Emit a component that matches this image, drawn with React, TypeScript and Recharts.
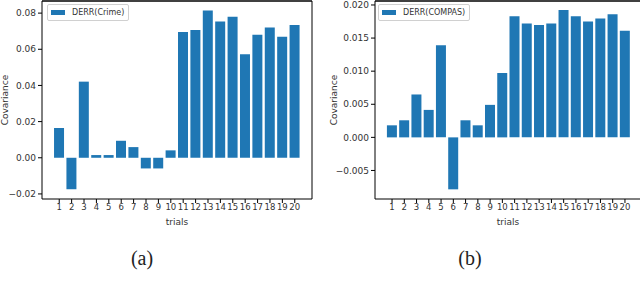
import React from 'react';
import { BarChart, Bar, XAxis, YAxis, Legend, ReferenceLine } from 'recharts';

const trials = [1, 2, 3, 4, 5, 6, 7, 8, 9, 10, 11, 12, 13, 14, 15, 16, 17, 18, 19, 20];
const crimeValues = [0.0165, -0.0174, 0.0421, 0.0015, 0.0015, 0.0094, 0.0059, -0.0059, -0.0059, 0.0041,
  0.0695, 0.0706, 0.0815, 0.0754, 0.078, 0.0573, 0.068, 0.0721, 0.0669, 0.0734];
const compasValues = [0.00182, 0.00258, 0.00648, 0.00415, 0.0139, -0.00785, 0.00258, 0.00182, 0.00491, 0.00972,
  0.01828, 0.01722, 0.01696, 0.01722, 0.01924, 0.01828, 0.01752, 0.01797, 0.01858, 0.0161];
const crimeTicks = [-0.02, 0, 0.02, 0.04, 0.06, 0.08];
const compasTicks = [-0.005, 0, 0.005, 0.01, 0.015, 0.02];
const crimeLabel = 'DERR(Crime)';
const compasLabel = 'DERR(COMPAS)';
const xLabel = 'trials';
const yLabel = 'Covariance';
const captions = ['(a)', '(b)'];

const BLUE = '#1f77b4';
const FONT = "'DejaVu Sans', sans-serif";
const TEXT = '#333';
const X_DOMAIN: [number, number] = [-0.39, 21.39];

const crimeData = trials.map((t, i) => ({ trial: t, value: crimeValues[i] }));
const compasData = trials.map((t, i) => ({ trial: t, value: compasValues[i] }));

const fmt = (d: number) => (v: number) => (v < -1e-12 ? '\u2212' : '') + Math.abs(v).toFixed(d);

function LegendBox(props: any) {
  const item = props.payload && props.payload[0];
  return (
    <div style={{
      border: '1px solid #d0d0d0', borderRadius: 2, background: '#fff',
      padding: '2px 4px 2px 3px', display: 'flex', alignItems: 'center',
      fontFamily: FONT, fontSize: 8, color: TEXT, lineHeight: '11px', whiteSpace: 'nowrap',
    }}>
      <span style={{ display: 'inline-block', width: 14, height: 5, background: BLUE, marginRight: 7 }} />
      <span>{item ? item.value : ''}</span>
    </div>
  );
}

function Panel(p: {
  data: any[]; name: string; ticks: number[]; domain: [number, number]; decimals: number;
  width: number; yWidth: number; right: number; legendLeft: number;
}) {
  return (
    <BarChart width={p.width} height={220} data={p.data} margin={{ top: 1, right: p.right, bottom: 0, left: 0 }}>
      <XAxis dataKey="trial" type="number" domain={X_DOMAIN} ticks={trials} interval={0} allowDataOverflow
        height={21} tickSize={4} tickMargin={1}
        axisLine={{ stroke: '#000' }} tickLine={{ stroke: '#000' }}
        tick={{ fontSize: 8.5, fill: TEXT, fontFamily: FONT }} />
      <YAxis type="number" domain={p.domain} ticks={p.ticks} interval={0} allowDataOverflow
        width={p.yWidth} tickSize={4} tickMargin={2} tickFormatter={fmt(p.decimals)}
        axisLine={{ stroke: '#000' }} tickLine={{ stroke: '#000' }}
        tick={{ fontSize: 9, fill: TEXT, fontFamily: FONT }} />
      <ReferenceLine y={p.domain[1]} stroke="#000" strokeWidth={1.5} ifOverflow="extendDomain" />
      <ReferenceLine x={X_DOMAIN[1]} stroke="#000" ifOverflow="extendDomain" />
      <Bar dataKey="value" name={p.name} fill={BLUE} barSize={10} isAnimationActive={false} />
      <Legend layout="vertical" align="center" verticalAlign="middle" content={<LegendBox />}
        wrapperStyle={{ left: p.legendLeft, top: 4, width: 'auto', height: 'auto' }} />
    </BarChart>
  );
}

export default function App() {
  return (
    <div style={{ position: 'absolute', left: 0, top: 0, width: 640, height: 301, overflow: 'hidden', background: '#fff' }}>
      <div style={{ position: 'absolute', left: 0, top: 0 }}>
        <Panel data={crimeData} name={crimeLabel} ticks={crimeTicks} domain={[-0.0228, 0.0867]} decimals={2}
          width={320} yWidth={42} right={8} legendLeft={47} />
      </div>
      <div style={{ position: 'absolute', left: 320, top: 0 }}>
        <Panel data={compasData} name={compasLabel} ticks={compasTicks} domain={[-0.00931, 0.0206]} decimals={3}
          width={322} yWidth={55} right={0} legendLeft={58} />
      </div>
      <svg width={640} height={301} style={{ position: 'absolute', left: 0, top: 0, pointerEvents: 'none' }}>
        <text x={177} y={225} textAnchor="middle" fontFamily={FONT} fontSize={9} fill={TEXT}>{xLabel}</text>
        <text x={508} y={225} textAnchor="middle" fontFamily={FONT} fontSize={9} fill={TEXT}>{xLabel}</text>
        <text transform="translate(8,100) rotate(-90)" textAnchor="middle" fontFamily={FONT} fontSize={9} fill={TEXT}>{yLabel}</text>
        <text transform="translate(337,100) rotate(-90)" textAnchor="middle" fontFamily={FONT} fontSize={9} fill={TEXT}>{yLabel}</text>
        <text x={142} y={265} textAnchor="middle" fontFamily="'Liberation Serif', serif" fontSize={20} fill="#222">{captions[0]}</text>
        <text x={470} y={265} textAnchor="middle" fontFamily="'Liberation Serif', serif" fontSize={20} fill="#222">{captions[1]}</text>
      </svg>
    </div>
  );
}
